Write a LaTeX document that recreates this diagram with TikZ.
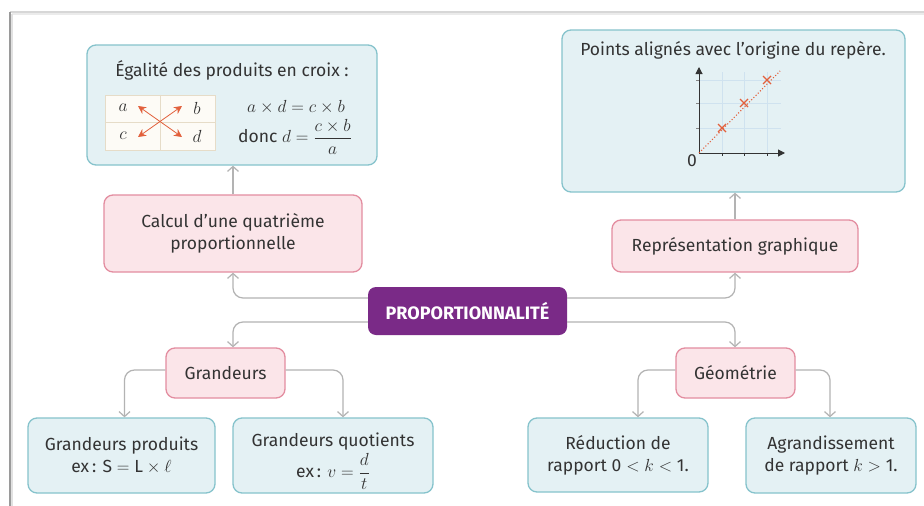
\RequirePackage{fix-cm}
\documentclass[tikz,border=0pt]{standalone}
\usepackage{amsmath}
\usepackage{fontspec}
\setmainfont{Fira Sans}
\usetikzlibrary{arrows.meta,calc}
\definecolor{ink}{HTML}{333333}
\definecolor{bluebg}{HTML}{E4F1F4}
\definecolor{bluebd}{HTML}{86C3CC}
\definecolor{pinkbg}{HTML}{FBE5E9}
\definecolor{pinkbd}{HTML}{E38DA0}
\definecolor{purp}{HTML}{7A2A87}
\definecolor{conngray}{HTML}{B3B3B3}
\definecolor{orangec}{HTML}{E2603C}
\definecolor{gridblue}{HTML}{CFE2EF}
\definecolor{tablebg}{HTML}{FDFBF6}
\definecolor{tablebd}{HTML}{E6DCC8}
\definecolor{framegray}{HTML}{9A9A9A}
\begin{document}
\begin{tikzpicture}[x=1pt,y=-1pt,
  every node/.style={text=ink, font=\fontsize{17.5}{22}\selectfont},
  bluebox/.style={draw=bluebd, fill=bluebg, line width=1.3pt, rounded corners=9pt, inner sep=0pt, align=center},
  pinkbox/.style={draw=pinkbd, fill=pinkbg, line width=1.3pt, rounded corners=9pt, inner sep=0pt, align=center},
  propbox/.style={fill=purp, rounded corners=8pt, inner sep=0pt, text=white, font=\bfseries\fontsize{18}{20}\selectfont},
  conn/.style={draw=conngray, line width=1.2pt, rounded corners=10pt, -{Straight Barb[length=5pt,width=11pt]}},
  crossarrow/.style={draw=orangec, line width=0.8pt, {Stealth[length=8pt,width=8pt]}-{Stealth[length=8pt,width=8pt]}},
  markx/.style={draw=orangec, line width=1.2pt}
]
\useasboundingbox (0,0) rectangle (924,506);
\fill[white] (0,0) rectangle (924,506);
% page frame
\draw[framegray!40, line width=2pt] (10,12) -- (924,12);
\draw[framegray!20, line width=2pt] (12,14) -- (924,14);
\draw[framegray, line width=1.5pt] (10,12) -- (10,506);
\draw[framegray!30, line width=2pt] (12,14) -- (12,506);

% boxes
\node[bluebox, minimum width=290pt, minimum height=120pt] (egal) at (232,105) {};
\node[bluebox, minimum width=343pt, minimum height=162pt] (graph) at (733.5,111) {};
\node[pinkbox, minimum width=258pt, minimum height=77pt] (calc) at (233,233.5) {Calcul d’une quatrième\\proportionnelle};
\node[pinkbox, minimum width=246pt, minimum height=52pt] (repr) at (735,246) {Représentation graphique};
\node[propbox, minimum width=199pt, minimum height=48pt] (prop) at (467.5,311) {PROPORTIONNALITÉ};
\node[pinkbox, minimum width=119pt, minimum height=50pt] (grand) at (225.5,373) {Grandeurs};
\node[pinkbox, minimum width=119pt, minimum height=50pt] (geom) at (735.5,373) {Géométrie};
\node[bluebox, minimum width=187pt, minimum height=75pt] (gp) at (121.5,455.5) {Grandeurs produits\\ex\,: $\mathrm{S}=\mathrm{L}\times\ell$};
\node[bluebox, minimum width=200pt, minimum height=75pt] (gq) at (333,455.5) {Grandeurs quotients\\[9pt]ex\,: $v=\smash{\dfrac{d}{t}}$};
\node[bluebox, minimum width=180pt, minimum height=74pt] (red) at (618,455) {Réduction de\\rapport 0${}<k<{}$1.};
\node[bluebox, minimum width=170pt, minimum height=75pt] (agr) at (831,455.5) {Agrandissement\\de rapport $k>{}$1.};

% connectors
\draw[conn] (calc.north) -- (calc.north |- egal.south);
\draw[conn] (repr.north) -- (repr.north |- graph.south);
\draw[conn] ([yshift=13pt]prop.west) -| (calc.south);
\draw[conn] ([yshift=13pt]prop.east) -| (repr.south);
\draw[conn] ([yshift=-11pt]prop.west) -| (calc.south |- grand.north);
\draw[conn] ([yshift=-11pt]prop.east) -| (repr.south |- geom.north);
\draw[conn] ([yshift=3pt]grand.west) -| ([xshift=3pt]gp.north);
\draw[conn] ([yshift=3pt]grand.east) -| ([xshift=10pt]gq.north);
\draw[conn] ([yshift=3pt]geom.west) -| ([xshift=20pt]red.north);
\draw[conn] ([yshift=3pt]geom.east) -| ([xshift=-1pt]agr.north);

% egal contents
\node (egtitle) at (232,70) {Égalité des produits en croix :};
\node[draw=tablebd, fill=tablebg, line width=1pt, minimum width=110pt, minimum height=55pt, inner sep=0pt] (tab) at (160,122.5) {};
\draw[tablebd, line width=1pt] (tab.north) -- (tab.south);
\draw[tablebd, line width=1pt] (tab.west) -- (tab.east);
\node (la) at (123,108) {$a$};
\node (lb) at (197,108) {$b$};
\node (lc) at (123,136) {$c$};
\node (ld) at (197,136) {$d$};
\coordinate (ul) at (138,106);
\coordinate (ur) at (182,106);
\coordinate (ll) at (138,137);
\coordinate (lr) at (182,137);
\draw[crossarrow] (ul) -- (lr);
\draw[crossarrow] (ur) -- (ll);
\node (f1) at (296,107) {$a\times d=c\times b$};
\node (f2) at (295,137) {donc $d=\dfrac{c\times b}{a}$};

% graph contents
\node (grtitle) at (733,50) {Points alignés avec l’origine du repère.};
\foreach \gx in {722,744,767} \draw[gridblue, line width=0.8pt] (\gx,72) -- (\gx,153);
\foreach \gy in {80,103,128} \draw[gridblue, line width=0.8pt] (699,\gy) -- (781,\gy);
\draw[ink, line width=1pt, -{Triangle[length=7pt,width=7pt]}] (699,153) -- (699,67);
\draw[ink, line width=1pt, -{Triangle[length=7pt,width=7pt]}] (699,153) -- (785,153);
\foreach \gx in {722,744,767} \draw[ink, line width=0.8pt] (\gx,153) -- (\gx,156);
\foreach \gy in {80,103,128} \draw[ink!60, line width=0.8pt] (696,\gy) -- (699,\gy);
\draw[orangec, dotted, line width=1.1pt] (699,153) -- (780,71);
\foreach \px/\py in {722/128,744/103,767/80} {
  \draw[markx] (\px-4,\py-4) -- (\px+4,\py+4);
  \draw[markx] (\px-4,\py+4) -- (\px+4,\py-4);
}
\node (zero) at (692,161) {0};
\end{tikzpicture}
\end{document}
